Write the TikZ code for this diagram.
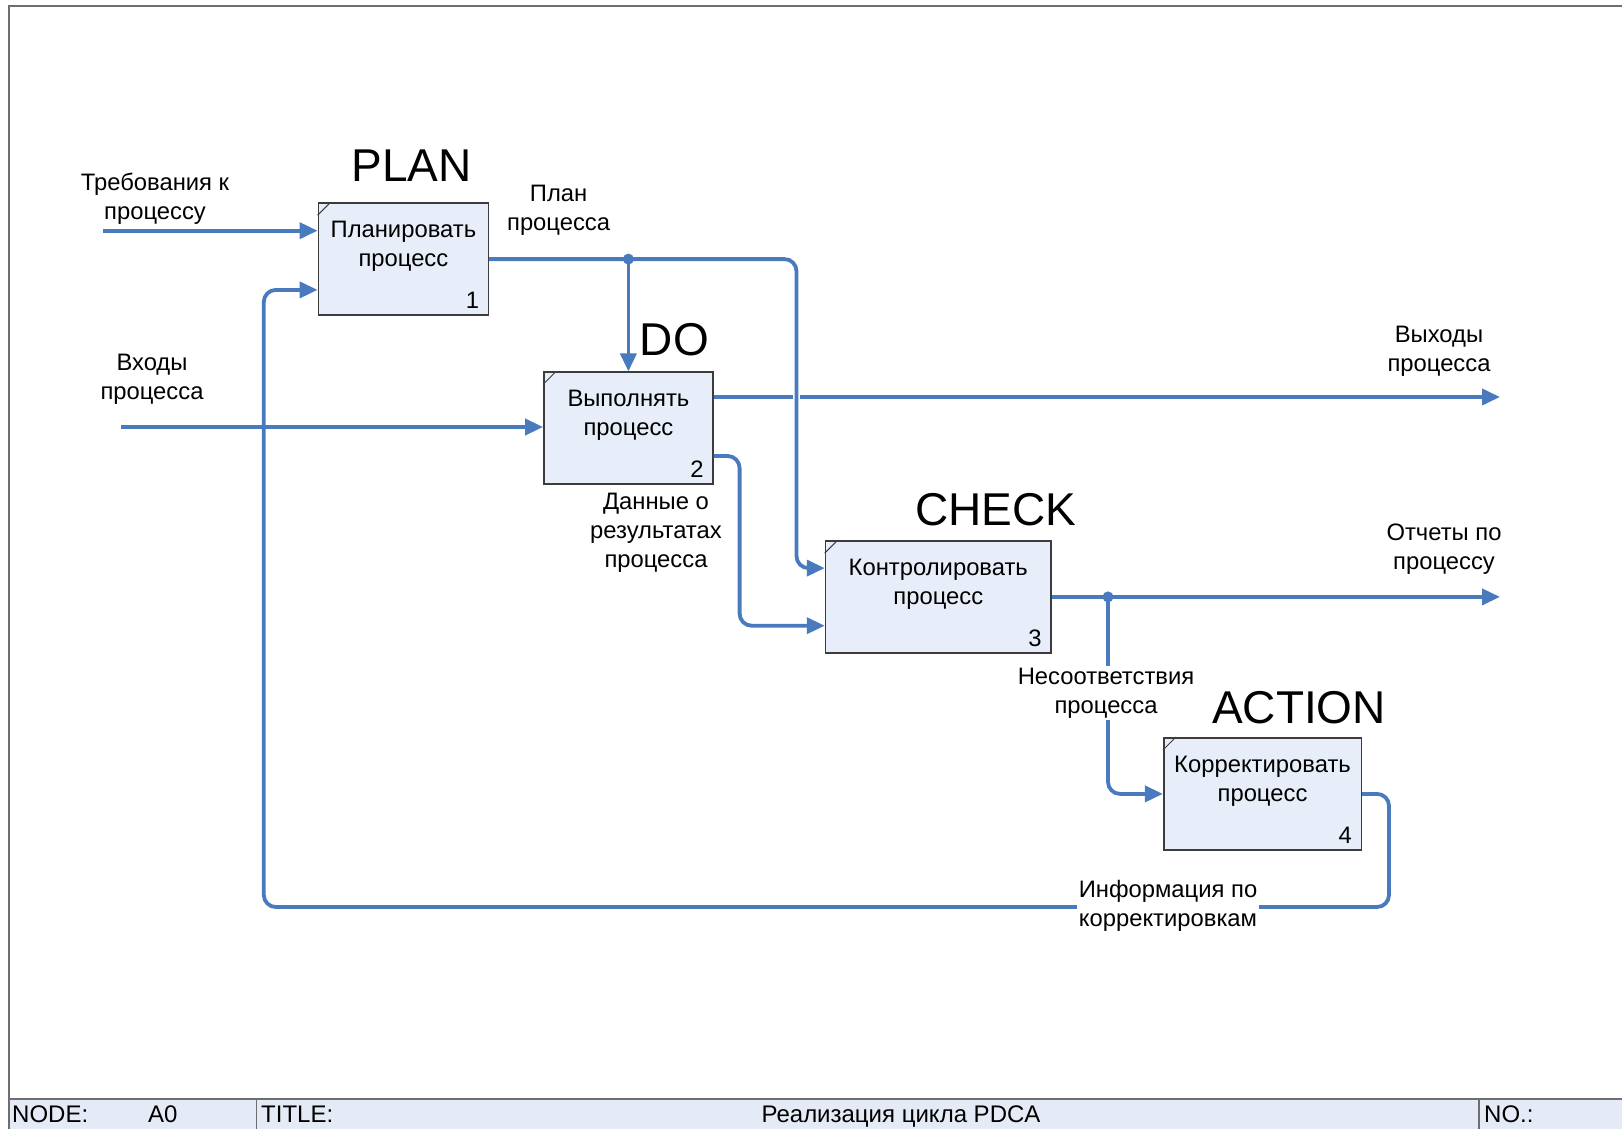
\documentclass[tikz,border=0pt]{standalone}
\usepackage{fontspec}
\setmainfont{Liberation Sans}
\usetikzlibrary{arrows.meta,calc}
\definecolor{flow}{RGB}{74,122,190}
\definecolor{boxfill}{RGB}{232,238,249}
\definecolor{edge}{RGB}{60,60,60}
\definecolor{footfill}{RGB}{229,235,246}
\definecolor{rule}{RGB}{110,110,110}

\tikzset{
  flowline/.style={draw=flow, line width=3.8pt, rounded corners=12pt},
  arr/.style={flowline, -{Triangle[length=18pt,width=16pt]}},
  func/.style={draw=edge, fill=boxfill, line width=1.6pt, minimum height=112pt, inner sep=0pt},
  functext/.style={anchor=north, align=center, font=\fontsize{23.8}{29}\selectfont, inner sep=0pt},
  funcnum/.style={anchor=south east, font=\fontsize{23.8}{26}\selectfont, inner sep=0pt},
  phase/.style={font=\fontsize{46}{50}\selectfont, inner sep=0pt},
  lbl/.style={align=center, font=\fontsize{23.8}{29}\selectfont, inner sep=0pt},
  foot/.style={anchor=base west, font=\fontsize{24}{26}\selectfont, inner sep=0pt},
  splitdot/.style={fill=flow},
}

\newcommand{\cornertick}[1]{\draw[edge, line width=1pt] ($(#1.north west)+(0,13)$) -- ($(#1.north west)+(13,0)$);}

\begin{document}
\begin{tikzpicture}[x=1pt,y=-1pt]
  \useasboundingbox (0,0) rectangle (1622,1129);
  \fill[white] (0,0) rectangle (1622,1129);

  % sheet frame and footer strip
  \fill[footfill] (9,1099) rectangle (1622,1129);
  \draw[rule, line width=2pt] (1622,6) -- (9,6) -- (9,1129);
  \draw[rule, line width=2pt] (9,1099) -- (1622,1099);
  \draw[rule, line width=1.2pt] (256.5,1099) -- (256.5,1129);
  \draw[rule, line width=1.2pt] (1479,1099) -- (1479,1129);
  \node[foot] (fnode) at (12,1122) {NODE:};
  \node[foot] (fa0) at (148,1122) {A0};
  \node[foot] (ftitle) at (261,1122) {TITLE:};
  \node[foot, anchor=base] (fname) at (901,1122) {Реализация цикла PDCA};
  \node[foot] (fno) at (1484,1122) {NO.:};

  % activity boxes
  \node[func, minimum width=170pt] (b1) at (403.4,259.1) {};
  \node[func, minimum width=169pt] (b2) at (628.4,428.2) {};
  \node[func, minimum width=225.5pt] (b3) at (938.3,596.9) {};
  \node[func, minimum width=197.6pt] (b4) at (1262.5,793.9) {};
  \foreach \b in {b1,b2,b3,b4} {\cornertick{\b}}

  \node[functext] (t1) at ($(b1.north)+(0,19)$) {Планировать\\процесс};
  \node[functext] (t2) at ($(b2.north)+(0,19)$) {Выполнять\\процесс};
  \node[functext] (t3) at ($(b3.north)+(0,19)$) {Контролировать\\процесс};
  \node[functext] (t4) at ($(b4.north)+(0,19)$) {Корректировать\\процесс};
  \node[funcnum] (n1) at ($(b1.south east)+(-10,-7)$) {1};
  \node[funcnum] (n2) at ($(b2.south east)+(-10,-7)$) {2};
  \node[funcnum] (n3) at ($(b3.south east)+(-10,-7)$) {3};
  \node[funcnum] (n4) at ($(b4.south east)+(-10,-7)$) {4};

  % phase captions
  \node[phase] (pplan) at (411.7,166) {PLAN};
  \node[phase] (pdo) at (674.4,340) {DO};
  \node[phase] (pcheck) at (996,510) {CHECK};
  \node[phase] (paction) at (1299,708) {ACTION};

  % connector anchor points
  \coordinate (reqin) at (103.4,230.7);
  \coordinate (b1in1) at (b1.west |- reqin);
  \coordinate (b1in2) at ($(b1.south west)+(0,-26)$);
  \coordinate (inpin) at (121,427);
  \coordinate (b2in) at (b2.west |- inpin);
  \coordinate (b2out1) at ($(b2.north east)+(0,25.6)$);
  \coordinate (b2out2) at ($(b2.south east)+(0,-29)$);
  \coordinate (b3in1) at ($(b3.north west)+(0,28)$);
  \coordinate (b3in2) at ($(b3.south west)+(0,-28)$);
  \coordinate (outend) at (1500,0);
  \coordinate (split1) at (b2.north |- b1.east);
  \coordinate (plancol) at (796.5,0);
  \coordinate (datacol) at (739.6,0);
  \coordinate (split2) at (1108,0);
  \coordinate (fbR) at (1389,907);
  \coordinate (fbL) at (263.8,907);
  \coordinate (cross) at (plancol |- b2out1);

  % inputs
  \draw[arr] (reqin) -- (b1in1);
  \draw[arr] (inpin) -- (b2in);

  % outputs of the process, broken where the plan line crosses
  \draw[arr] (b2out1) -- (outend |- b2out1);
  \fill[white] ($(cross)+(-3.6,-3)$) rectangle ($(cross)+(3.6,3)$);

  % plan to DO and CHECK
  \draw[arr] (b1.east) -| (plancol |- b3in1) -- (b3in1);
  \draw[arr] (split1) -- (b2.north);
  \fill[splitdot] (split1) circle (5.5pt);

  % results data to CHECK
  \draw[arr] (b2out2) -| (datacol |- b3in2) -- (b3in2);

  % reports and nonconformities
  \draw[arr] (b3.east) -- (outend |- b3.east);
  \draw[arr] (split2 |- b3.east) |- (b4.west);
  \fill[splitdot] (split2 |- b3.east) circle (5.5pt);

  % corrective feedback to PLAN
  \draw[arr] (b4.east) -| (fbR) -- (fbL) |- (b1in2);

  % connector labels
  \node[lbl] (lreq) at (155,198.5) {Требования к\\процессу};
  \node[lbl] (linp) at (152,379.5) {Входы\\процесса};
  \node[lbl] (lplan) at (558.6,210) {План\\процесса};
  \node[lbl] (lout) at (1439,351.5) {Выходы\\процесса};
  \node[lbl] (ldata) at (656,532.5) {Данные о\\результатах\\процесса};
  \node[lbl] (lrep) at (1444,549.5) {Отчеты по\\процессу};
  \node[lbl, fill=white, inner sep=2pt] (lnc) at (1106,693) {Несоответствия\\процесса};
  \node[lbl, fill=white, inner sep=2pt] (lfb) at (1168,906) {Информация по\\корректировкам};
\end{tikzpicture}
\end{document}
